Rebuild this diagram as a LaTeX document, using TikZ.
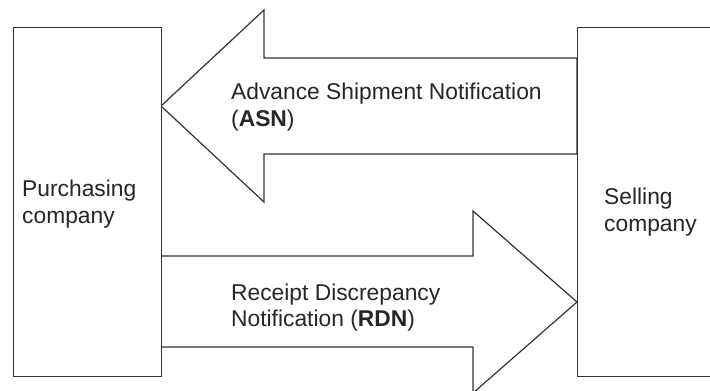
\documentclass[tikz,border=0pt]{standalone}
\usepackage{fontspec}
\setmainfont{Liberation Sans}
\begin{document}
\begin{tikzpicture}[x=1bp,y=-1bp,
  outline/.style={draw=black!80,line width=1.2bp,fill=white,line join=miter},
  lbl/.style={anchor=base west,inner sep=0pt,align=left,text=black!85,
    font=\fontsize{22.8bp}{26.5bp}\selectfont}]
\useasboundingbox (0,0) rectangle (710,390);
\fill[white] (0,0) rectangle (710,390);
\clip (0,0) rectangle (710,390);
% block arrows
\draw[outline] (161,106) -- (264,10) -- (264,58) -- (577,58) -- (577,154)
  -- (264,154) -- (264,202) -- cycle;
\draw[outline] (161,256) -- (473,256) -- (473,211) -- (577,302)
  -- (473,393) -- (473,347) -- (161,347) -- cycle;
% company boxes
\node[outline,minimum width=148bp,minimum height=349bp,inner sep=0pt,anchor=north west]
  (purch) at (13,27) {};
\node[outline,minimum width=160bp,minimum height=349bp,inner sep=0pt,anchor=north west]
  (sell) at (577,27) {};
% labels (base anchor = baseline of last line)
\node[lbl] (purchlbl) at (22,223) {Purchasing\\company};
\node[lbl] (selllbl) at (604,231) {Selling\\company};
\node[lbl] (asnlbl) at (231,126) {Advance Shipment Notification\\(\textbf{ASN})};
\node[lbl] (rdnlbl) at (231,326.5) {Receipt Discrepancy\\Notification (\textbf{RDN})};
\end{tikzpicture}
\end{document}
